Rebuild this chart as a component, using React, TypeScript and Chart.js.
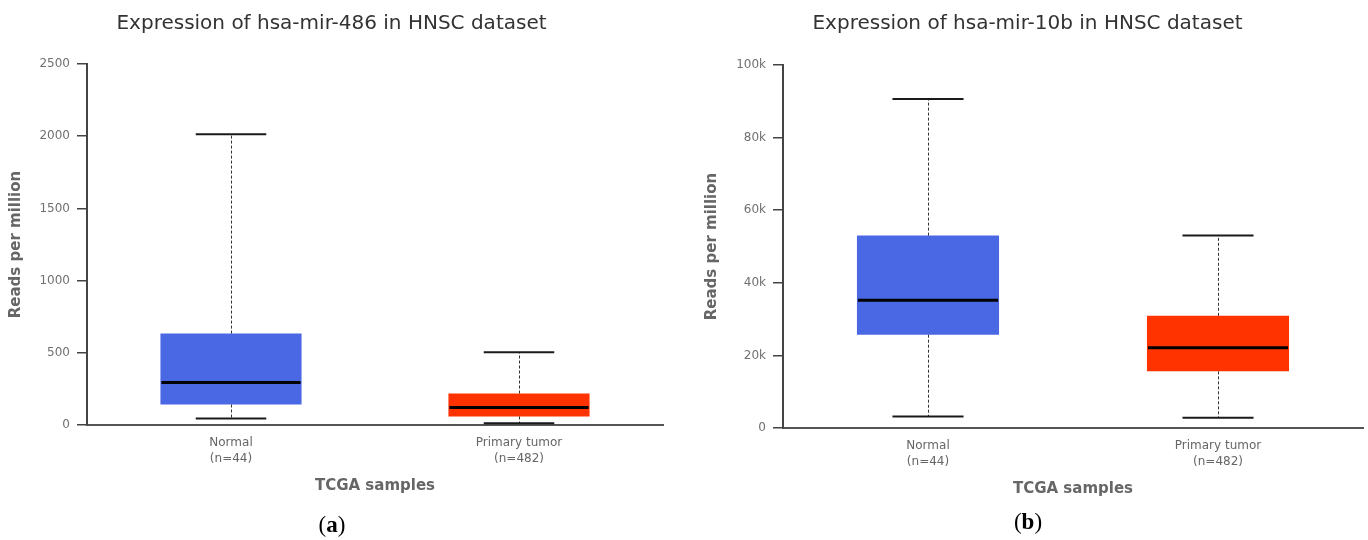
import React, { useEffect, useRef } from 'react';
import { Chart, registerables } from 'chart.js';

Chart.register(...registerables);

// ---- shared ----
const categories = [
  ['Normal', '(n=44)'],
  ['Primary tumor', '(n=482)'],
];
const boxColors = ['#4A68E4', '#FF3300'];

// ---- panel (a): hsa-mir-486 ----
const mir486Min = [45, 12];
const mir486Q1 = [142, 59];
const mir486Median = [294, 121];
const mir486Q3 = [633, 218];
const mir486Max = [2014, 503];
const mir486Ticks = [0, 500, 1000, 1500, 2000, 2500];
const mir486TickLabels = ['0', '500', '1000', '1500', '2000', '2500'];

// ---- panel (b): hsa-mir-10b ----
const mir10bMin = [3200, 2800];
const mir10bQ1 = [25700, 15600];
const mir10bMedian = [35200, 22100];
const mir10bQ3 = [53000, 30900];
const mir10bMax = [90600, 53000];
const mir10bTicks = [0, 20000, 40000, 60000, 80000, 100000];
const mir10bTickLabels = ['0', '20k', '40k', '60k', '80k', '100k'];

const FONT = "'DejaVu Sans', sans-serif";

type Stats = { min: number[]; q1: number[]; median: number[]; q3: number[]; max: number[] };

function makeBoxPlugin(s: Stats) {
  return {
    id: 'boxWhisker',
    afterDatasetsDraw(chart: any) {
      const { ctx } = chart;
      const y = chart.scales.y;
      const meta = chart.getDatasetMeta(0);
      meta.data.forEach((bar: any, i: number) => {
        const { x, width } = bar.getProps(['x', 'width'], true);
        const half = width / 2;
        const cap = width / 4;
        const cx = Math.round(x) + 0.5;
        const pMin = y.getPixelForValue(s.min[i]);
        const pQ1 = y.getPixelForValue(s.q1[i]);
        const pMed = y.getPixelForValue(s.median[i]);
        const pQ3 = y.getPixelForValue(s.q3[i]);
        const pMax = y.getPixelForValue(s.max[i]);
        ctx.save();
        // dashed whiskers
        ctx.strokeStyle = '#333';
        ctx.lineWidth = 1;
        ctx.setLineDash([3, 2]);
        ctx.beginPath();
        ctx.moveTo(cx, pQ3);
        ctx.lineTo(cx, pMax);
        ctx.moveTo(cx, pQ1);
        ctx.lineTo(cx, pMin);
        ctx.stroke();
        ctx.setLineDash([]);
        // caps
        ctx.strokeStyle = '#1a1a1a';
        ctx.lineWidth = 2;
        ctx.beginPath();
        ctx.moveTo(x - cap, pMax);
        ctx.lineTo(x + cap, pMax);
        ctx.moveTo(x - cap, pMin);
        ctx.lineTo(x + cap, pMin);
        ctx.stroke();
        // median
        ctx.strokeStyle = '#000';
        ctx.lineWidth = 3;
        ctx.beginPath();
        ctx.moveTo(x - half + 1, pMed);
        ctx.lineTo(x + half - 1, pMed);
        ctx.stroke();
        ctx.restore();
      });
    },
  };
}

type PanelProps = {
  left: number;
  width: number;
  title: string;
  stats: Stats;
  yMax: number;
  ticks: number[];
  tickLabels: string[];
  yAxisWidth: number;
  yTitlePad: number;
  titlePadBottom: number;
  xAxisHeight: number;
  xTitlePadBottom: number;
};

function Panel(p: PanelProps) {
  const ref = useRef<HTMLCanvasElement | null>(null);
  useEffect(() => {
    if (!ref.current) return;
    const chart = new Chart(ref.current, {
      type: 'bar',
      data: {
        labels: categories as any,
        datasets: [
          {
            data: p.stats.q1.map((v, i) => [v, p.stats.q3[i]]) as any,
            backgroundColor: boxColors,
            borderWidth: 0,
            borderSkipped: false,
            barPercentage: 0.49,
            categoryPercentage: 1,
          },
        ],
      },
      options: {
        responsive: false,
        animation: false,
        devicePixelRatio: 1,
        layout: { padding: { left: 0, right: 5, top: 0, bottom: 0 } },
        plugins: {
          legend: { display: false },
          tooltip: { enabled: false },
          title: {
            display: true,
            text: p.title,
            color: '#333',
            font: { family: FONT, size: 20, weight: 'normal' },
            padding: { top: 12, bottom: p.titlePadBottom },
          },
        },
        scales: {
          x: {
            grid: { display: true, drawOnChartArea: false, drawTicks: false },
            border: { display: true, color: '#555', width: 2 },
            ticks: {
              color: '#666',
              font: { family: FONT, size: 12, lineHeight: 1.35 },
              padding: 10,
              maxRotation: 0,
            },
            title: {
              display: true,
              text: 'TCGA samples',
              color: '#666',
              font: { family: FONT, size: 15, weight: 'bold' },
              padding: { top: 0, bottom: p.xTitlePadBottom },
            },
            afterFit: (s: any) => {
              s.height = p.xAxisHeight;
            },
          },
          y: {
            min: 0,
            max: p.yMax,
            afterBuildTicks: (s: any) => {
              s.ticks = p.ticks.map((v) => ({ value: v }));
            },
            ticks: {
              color: '#707070',
              font: { family: FONT, size: 12 },
              padding: 7,
              callback: (_v: any, i: number) => p.tickLabels[i],
            },
            grid: { drawOnChartArea: false, tickLength: 10, color: '#444', lineWidth: 1.5 },
            border: { display: true, color: '#444', width: 2 },
            title: {
              display: true,
              text: 'Reads per million',
              color: '#666',
              font: { family: FONT, size: 15, weight: 'bold' },
              padding: { top: p.yTitlePad, bottom: 0 },
            },
            afterFit: (s: any) => {
              s.width = p.yAxisWidth;
            },
          },
        },
      } as any,
      plugins: [makeBoxPlugin(p.stats)],
    });
    return () => chart.destroy();
  }, []);
  return (
    <canvas
      ref={ref}
      width={p.width}
      height={540}
      style={{ position: 'absolute', left: p.left, top: 0, width: p.width, height: 540, display: 'block' }}
    />
  );
}

const labelStyle: React.CSSProperties = {
  position: 'absolute',
  transform: 'translate(-50%, -50%)',
  fontFamily: "'Liberation Serif', serif",
  fontSize: 23,
  color: '#000',
  whiteSpace: 'nowrap',
};

export default function App() {
  return (
    <div style={{ position: 'fixed', left: 0, top: 0, width: 1368, height: 540, background: '#fff', overflow: 'hidden' }}>
      <Panel
        left={0}
        width={668}
        title="Expression of hsa-mir-486 in HNSC dataset"
        stats={{ min: mir486Min, q1: mir486Q1, median: mir486Median, q3: mir486Q3, max: mir486Max }}
        yMax={2500}
        ticks={mir486Ticks}
        tickLabels={mir486TickLabels}
        yAxisWidth={87}
        yTitlePad={7}
        titlePadBottom={28}
        xAxisHeight={115}
        xTitlePadBottom={45}
      />
      <Panel
        left={692}
        width={676}
        title="Expression of hsa-mir-10b in HNSC dataset"
        stats={{ min: mir10bMin, q1: mir10bQ1, median: mir10bMedian, q3: mir10bQ3, max: mir10bMax }}
        yMax={100000}
        ticks={mir10bTicks}
        tickLabels={mir10bTickLabels}
        yAxisWidth={91}
        yTitlePad={11}
        titlePadBottom={29}
        xAxisHeight={112}
        xTitlePadBottom={42}
      />
      <div style={{ ...labelStyle, left: 332, top: 525 }}>
        (<b>a</b>)
      </div>
      <div style={{ ...labelStyle, left: 1028, top: 522 }}>
        (<b>b</b>)
      </div>
    </div>
  );
}
